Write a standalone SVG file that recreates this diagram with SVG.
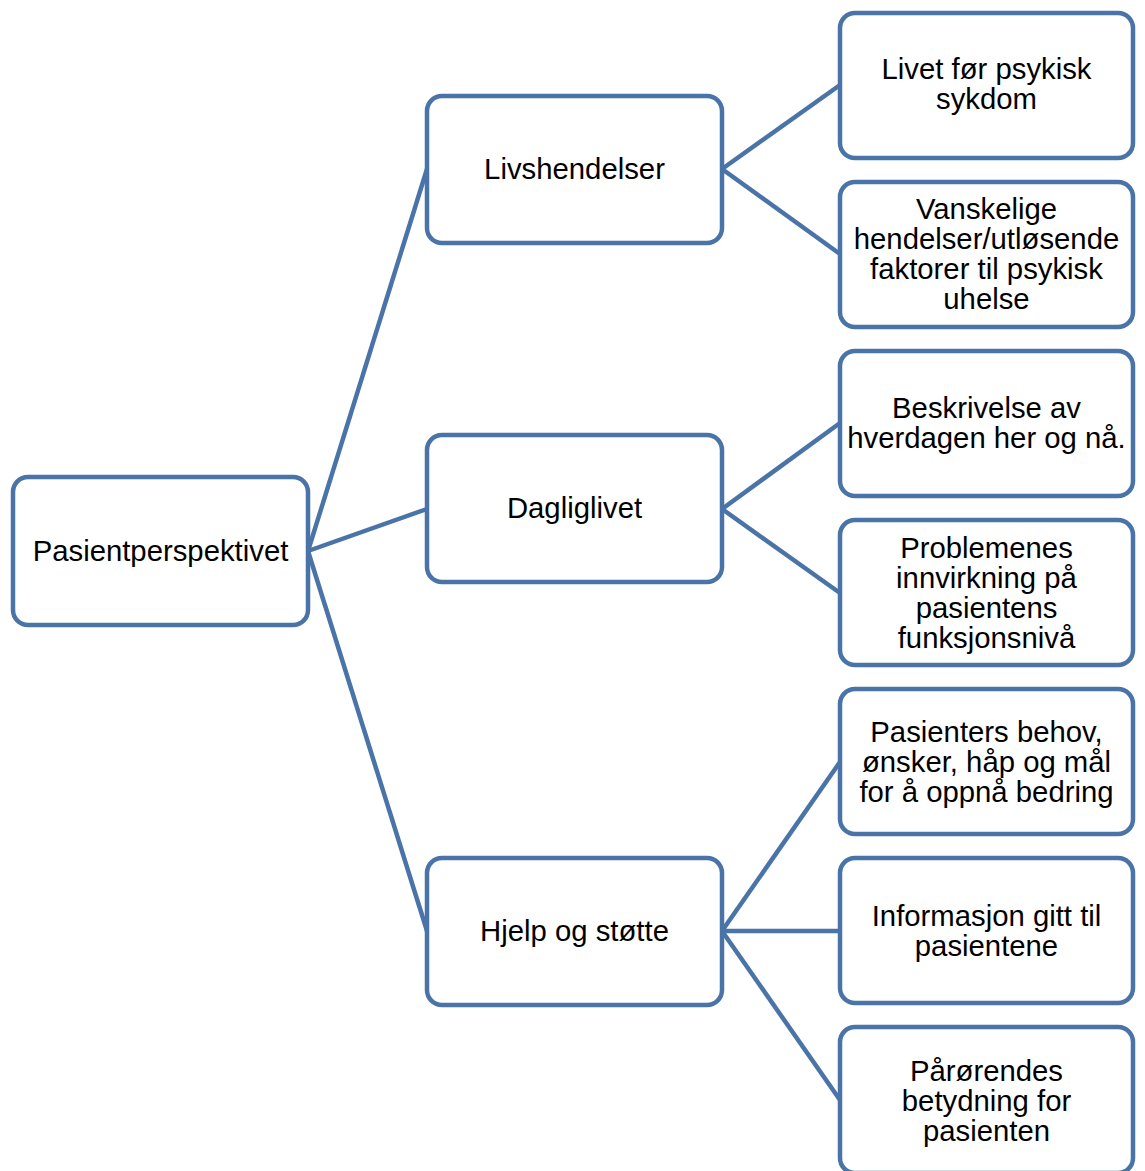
<svg xmlns="http://www.w3.org/2000/svg" width="1145" height="1171" viewBox="0 0 1145 1171">
<style>
.box{fill:#fff;stroke:#4A74A8;stroke-width:4.5}
.con{stroke:#4A74A8;stroke-width:4.5;fill:none}
text{font-family:"Liberation Sans",Arial,sans-serif;font-size:29.3px;fill:#000;text-anchor:middle}
</style>
<rect width="1145" height="1171" fill="#fff"/>
<g id="connectors">
<line class="con" x1="308" y1="551" x2="427" y2="169"/>
<line class="con" x1="308" y1="551" x2="427" y2="509"/>
<line class="con" x1="308" y1="551" x2="427" y2="931"/>
<line class="con" x1="722" y1="169" x2="840" y2="85"/>
<line class="con" x1="722" y1="169" x2="840" y2="254"/>
<line class="con" x1="722" y1="509" x2="840" y2="423"/>
<line class="con" x1="722" y1="509" x2="840" y2="593"/>
<line class="con" x1="722" y1="931" x2="840" y2="762"/>
<line class="con" x1="722" y1="931" x2="840" y2="931"/>
<line class="con" x1="722" y1="931" x2="840" y2="1100"/>
</g>
<g id="root"><rect class="box" x="13" y="477" width="295" height="148" rx="15"/><text x="160.5" y="561">Pasientperspektivet</text></g>
<g id="livshendelser"><rect class="box" x="427" y="96" width="295" height="147" rx="15"/><text x="574.5" y="179">Livshendelser</text></g>
<g id="dagliglivet"><rect class="box" x="427" y="435" width="295" height="147" rx="15"/><text x="574.5" y="518">Dagliglivet</text></g>
<g id="hjelp"><rect class="box" x="427" y="858" width="295" height="147" rx="15"/><text x="574.5" y="941">Hjelp og støtte</text></g>
<g id="livet"><rect class="box" x="840" y="13" width="293" height="145" rx="15"/><text x="986.5" y="79">Livet før psykisk</text><text x="986.5" y="108.5">sykdom</text></g>
<g id="vanskelige"><rect class="box" x="840" y="182" width="293" height="145" rx="15"/><text x="986.5" y="219">Vanskelige</text><text x="986.5" y="249">hendelser/utløsende</text><text x="986.5" y="279">faktorer til psykisk</text><text x="986.5" y="309">uhelse</text></g>
<g id="beskrivelse"><rect class="box" x="840" y="351" width="293" height="145" rx="15"/><text x="986.5" y="418">Beskrivelse av</text><text x="986.5" y="447.5">hverdagen her og nå.</text></g>
<g id="problemenes"><rect class="box" x="840" y="520" width="293" height="145" rx="15"/><text x="986.5" y="558">Problemenes</text><text x="986.5" y="588">innvirkning på</text><text x="986.5" y="618">pasientens</text><text x="986.5" y="648">funksjonsnivå</text></g>
<g id="behov"><rect class="box" x="840" y="689" width="293" height="145" rx="15"/><text x="986.5" y="742">Pasienters behov,</text><text x="986.5" y="772">ønsker, håp og mål</text><text x="986.5" y="802">for å oppnå bedring</text></g>
<g id="informasjon"><rect class="box" x="840" y="858" width="293" height="145" rx="15"/><text x="986.5" y="926">Informasjon gitt til</text><text x="986.5" y="955.5">pasientene</text></g>
<g id="parorendes"><rect class="box" x="840" y="1027" width="293" height="146" rx="15"/><text x="986.5" y="1081">Pårørendes</text><text x="986.5" y="1111">betydning for</text><text x="986.5" y="1141">pasienten</text></g>
</svg>
